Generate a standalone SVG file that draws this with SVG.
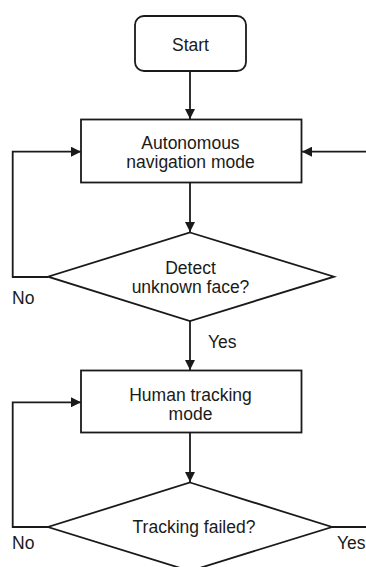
<svg xmlns="http://www.w3.org/2000/svg" width="366" height="567" viewBox="0 0 366 567">
<defs>
<marker id="ah" viewBox="0 0 10 10" refX="10" refY="5" markerWidth="10" markerHeight="10" markerUnits="userSpaceOnUse" orient="auto">
<path d="M0,0 L10,5 L0,10 z" fill="#1a1a1a"/>
</marker>
<style>
.shape{fill:#fff;stroke:#1a1a1a;stroke-width:1.8}
.edge{fill:none;stroke:#1a1a1a;stroke-width:1.8}
text{font-family:"Liberation Sans",Arial,sans-serif;font-size:17.5px;fill:#1a1a1a;text-anchor:middle}
.lbl{text-anchor:start}
</style>
</defs>
<rect width="366" height="567" fill="#fff"/>
<g id="connectors">
<path class="edge" d="M190,71 V119" marker-end="url(#ah)"/>
<path class="edge" d="M190,183 V232" marker-end="url(#ah)"/>
<path class="edge" d="M48,277 H12.7 V151.7 H81" marker-end="url(#ah)"/>
<path class="edge" d="M366,151.7 H302" marker-end="url(#ah)"/>
<path class="edge" d="M190,321 V370" marker-end="url(#ah)"/>
<path class="edge" d="M190,433 V482" marker-end="url(#ah)"/>
<path class="edge" d="M48,527 H12.7 V402.3 H81" marker-end="url(#ah)"/>
<path class="edge" d="M332,527 H366"/>
<text class="lbl" x="12" y="304">No</text>
<text class="lbl" x="208" y="348">Yes</text>
<text class="lbl" x="12" y="549">No</text>
<text class="lbl" x="337" y="549">Yes</text>
</g>
<g id="start">
<rect class="shape" x="135" y="16" width="111" height="55" rx="9"/>
<text x="190.5" y="51">Start</text>
</g>
<g id="autonomous">
<rect class="shape" x="81" y="119.5" width="220.5" height="63"/>
<text x="190.5" y="149">Autonomous</text>
<text x="190.5" y="168">navigation mode</text>
</g>
<g id="detect">
<polygon class="shape" points="190,232.5 334,276.7 190,321 48,276.7"/>
<text x="190.5" y="274">Detect</text>
<text x="190.5" y="293">unknown face?</text>
</g>
<g id="tracking">
<rect class="shape" x="81" y="370.5" width="220.5" height="62"/>
<text x="190.5" y="401">Human tracking</text>
<text x="190.5" y="420">mode</text>
</g>
<g id="failed">
<polygon class="shape" points="190,482.5 332,527 190,571 48,527"/>
<text x="194" y="533">Tracking failed?</text>
</g>
</svg>
